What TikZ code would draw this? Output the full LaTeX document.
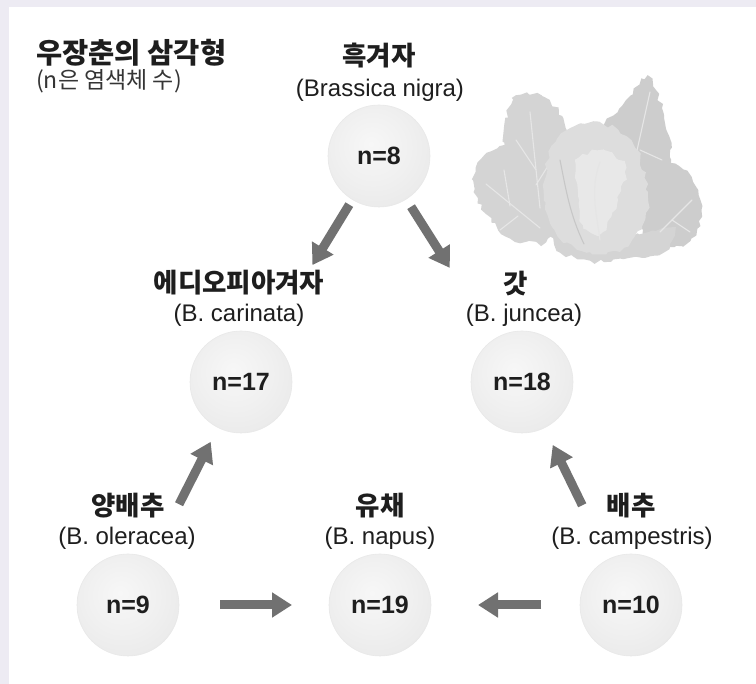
\documentclass[tikz,border=0pt]{standalone}
\usepackage{fontspec}
\setmainfont{Liberation Sans}
\newfontfamily\kr{Noto Sans CJK KR}
\usetikzlibrary{arrows.meta,decorations.pathmorphing}

\definecolor{framebg}{HTML}{EDEBF3}
\definecolor{arrowgray}{HTML}{717171}
\definecolor{ink}{HTML}{1E1E1E}
\definecolor{sph1}{HTML}{F7F7F7}
\definecolor{sph2}{HTML}{F0F0F0}
\definecolor{sph3}{HTML}{E6E6E6}
\definecolor{sph4}{HTML}{D8D8D8}
\definecolor{leafA}{HTML}{D4D4D4}
\definecolor{leafB}{HTML}{CDCDCD}
\definecolor{headA}{HTML}{DDDDDD}
\definecolor{headB}{HTML}{E8E8E8}
\definecolor{vein}{HTML}{E6E6E6}

% soft sphere used for the chromosome-count circles
\pgfdeclareradialshading{sphere}{\pgfpoint{-4bp}{6bp}}{%
  color(0bp)=(sph1); color(18bp)=(sph2); color(40bp)=(sph3);
  color(54bp)=(sph4); color(70bp)=(sph4)}

\tikzset{
  cell/.style={circle, minimum size=102pt, inner sep=0pt, shading=sphere,
    draw=gray!18, line width=0.6pt, text=ink,
    font=\bfseries\fontsize{25}{25}\selectfont},
  hname/.style={text=ink, inner sep=0pt,
    font=\kr\bfseries\fontsize{26.5}{28}\selectfont},
  latin/.style={text=ink, inner sep=0pt, font=\fontsize{24}{26}\selectfont},
  arr/.style={draw=arrowgray, line width=9pt,
    -{Triangle[width=24pt,length=20pt]}},
  leaf/.style={fill=#1, decorate,
    decoration={random steps, segment length=5pt, amplitude=2.4pt}},
  veinline/.style={draw=vein, line width=1.1pt, line cap=round},
}

\begin{document}
\begin{tikzpicture}[x=1pt,y=-1pt]
% page and frame
\fill[framebg] (0,0) rectangle (756,684);
\fill[white] (9,7) rectangle (756,684);
\useasboundingbox (0,0) rectangle (756,684);

% heading
\node[anchor=west, text=ink, inner sep=0pt,
  font=\kr\bfseries\fontsize{28.5}{30}\selectfont] (ttl) at (36,53) {우장춘의 삼각형};
\node[anchor=west, text=ink!90, inner sep=0pt,
  font=\kr\fontsize{23}{25}\selectfont] (sub) at (36,81) {(n은 염색체 수)};

% cabbage sketch
\begin{scope}
\pgfmathsetseed{11}
% back leaves
\path[leaf=leafB] plot[smooth cycle] coordinates
  {(648,76) (662,108) (670,150) (662,190) (632,212) (600,198) (586,162) (602,128) (626,100)};
\path[leaf=leafA] plot[smooth cycle] coordinates
  {(512,98) (542,96) (562,116) (575,152) (570,200) (546,216) (520,192) (505,150)};
\path[leaf=leafA] plot[smooth cycle] coordinates
  {(476,168) (500,146) (532,146) (556,172) (562,214) (546,242) (510,238) (486,214) (474,192)};
\path[leaf=leafB] plot[smooth cycle] coordinates
  {(638,166) (676,164) (698,190) (700,226) (682,246) (650,242) (634,210)};
\path[leaf=leafA] plot[smooth cycle] coordinates
  {(545,214) (582,234) (622,238) (672,228) (664,252) (604,262) (560,252)};
% veins on the outer leaves
\draw[veinline] (540,208) -- (530,112);
\draw[veinline] (536,170) -- (516,140);
\draw[veinline] (536,185) -- (558,150);
\draw[veinline] (540,228) -- (486,184);
\draw[veinline] (518,216) -- (500,230);
\draw[veinline] (510,206) -- (504,170);
\draw[veinline] (626,200) -- (650,92);
\draw[veinline] (640,150) -- (662,160);
\draw[veinline] (632,170) -- (606,150);
\draw[veinline] (660,232) -- (692,200);
\draw[veinline] (672,220) -- (690,232);
% head
\path[leaf=headA] plot[smooth cycle] coordinates
  {(552,146) (584,124) (618,130) (640,158) (648,210) (628,246) (590,252) (558,236) (544,192)};
\path[leaf=headB] plot[smooth cycle] coordinates
  {(576,160) (604,150) (626,168) (618,200) (602,232) (584,228) (578,196)};
\draw[veinline, draw=white!80!gray] (600,240) .. controls (596,210) and (590,190) .. (600,162);
\draw[veinline, draw=headA!90!black] (560,160) .. controls (566,190) and (570,215) .. (584,244);
\end{scope}

% chromosome-count circles
\node[cell] (n8)  at (379,156) {n=8};
\node[cell] (n17) at (241,382) {n=17};
\node[cell] (n18) at (522,382) {n=18};
\node[cell] (n9)  at (128,605) {n=9};
\node[cell] (n19) at (380,605) {n=19};
\node[cell] (n10) at (631,605) {n=10};

% species names
\node[hname] (k8)  at (379,56)  {흑겨자};
\node[latin] (l8)  at (380,90)  {(Brassica nigra)};
\node[hname] (k17) at (239,283) {에디오피아겨자};
\node[latin] (l17) at (239,315) {(B. carinata)};
\node[hname] (k18) at (516,284) {갓};
\node[latin] (l18) at (524,315) {(B. juncea)};
\node[hname] (k9)  at (128,506) {양배추};
\node[latin] (l9)  at (127,538) {(B. oleracea)};
\node[hname] (k19) at (380,506) {유채};
\node[latin] (l19) at (380,538) {(B. napus)};
\node[hname] (k10) at (631,506) {배추};
\node[latin] (l10) at (632,538) {(B. campestris)};

% crossing arrows
\draw[arr, shorten <=57pt, shorten >=137pt] (n8.center) -- (n17.center);
\draw[arr, shorten <=60pt, shorten >=135pt] (n8.center) -- (n18.center);
\draw[arr, shorten <=113pt, shorten >=67pt] (n9.center) -- (n17.center);
\draw[arr, shorten <=111pt, shorten >=70pt] (n10.center) -- (n18.center);
\draw[arr, shorten <=92pt, shorten >=88pt] (n9.center) -- (n19.center);
\draw[arr, shorten <=90pt, shorten >=98pt] (n10.center) -- (n19.center);
\end{tikzpicture}
\end{document}
